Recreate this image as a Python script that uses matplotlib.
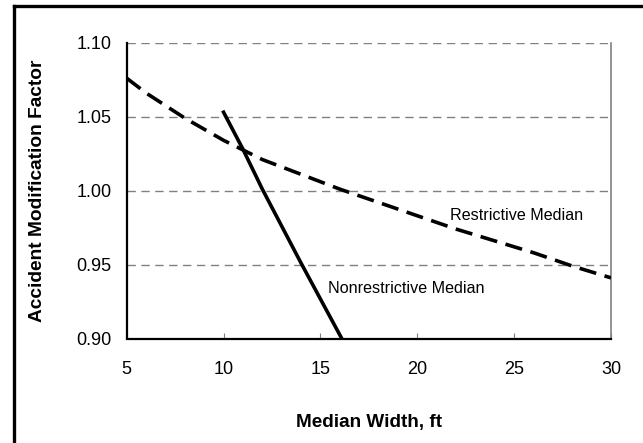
import matplotlib
matplotlib.use("Agg")
import matplotlib.pyplot as plt
from matplotlib.lines import Line2D

plt.rcParams["font.family"] = ["Liberation Sans", "DejaVu Sans"]

# median width (ft) -> AMF
restrictive_x = [5, 6, 8, 10, 12, 14, 16, 18, 20, 22, 24, 26, 28, 30]
restrictive_y = [1.076, 1.066, 1.049, 1.034, 1.021, 1.011, 1.001, 0.992,
                 0.983, 0.974, 0.966, 0.958, 0.949, 0.941]
nonrestrictive_x = [10, 11, 12, 14, 16.1]
nonrestrictive_y = [1.053, 1.028, 1.001, 0.951, 0.900]
xticks = [5, 10, 15, 20, 25, 30]
yticks = [0.90, 0.95, 1.00, 1.05, 1.10]

W, H = 643, 443
fig = plt.figure(figsize=(W/100, H/100), dpi=100)
ax = fig.add_axes([126.7/W, 1-338.5/H, (611-126.7)/W, (338.5-42.7)/H])

for y in yticks[1:]:
    ax.axhline(y, color="#808080", lw=1, dashes=(6, 4), zorder=1)

ax.plot(restrictive_x, restrictive_y, color="black", lw=2.6, dashes=(4.8, 2.4),
        solid_capstyle="butt", zorder=3)
ax.plot(nonrestrictive_x, nonrestrictive_y, color="black", lw=2.6, zorder=3)

ax.text(21.7, 0.9835, "Restrictive Median", fontsize=11.6, va="center", ha="left")
ax.text(15.4, 0.934, "Nonrestrictive Median", fontsize=11.6, va="center", ha="left")

ax.set_xlim(5, 30); ax.set_ylim(0.90, 1.10)
ax.set_xticks(xticks); ax.set_yticks(yticks)
ax.set_xticklabels([str(v) for v in xticks], fontsize=13)
ax.set_yticklabels([f"{v:.2f}" for v in yticks], fontsize=13)
ax.tick_params(axis="x", direction="in", length=4, width=0.8, color="#808080", pad=16)
ax.tick_params(axis="y", length=0, pad=11)
ax.spines["top"].set_visible(False)
ax.spines["left"].set_linewidth(1.6)
ax.spines["bottom"].set_linewidth(1.6)
ax.spines["right"].set_color("#808080")
ax.spines["right"].set_linewidth(1.2)

ax.set_xlabel("Median Width, ft", fontsize=13.6, fontweight="bold", labelpad=26)
ax.set_ylabel("Accident Modification Factor", fontsize=13.8, fontweight="bold", labelpad=22)

# outer frame (only top and left edges visible)
fig.add_artist(Line2D([13.5/W, 13.5/W], [0, 1-5.5/H], color="black", lw=2.4,
                      transform=fig.transFigure, solid_capstyle="projecting"))
fig.add_artist(Line2D([13.5/W, 1], [1-5.5/H, 1-5.5/H], color="black", lw=2.4,
                      transform=fig.transFigure, solid_capstyle="projecting"))

fig.savefig("out.png", dpi=100)
